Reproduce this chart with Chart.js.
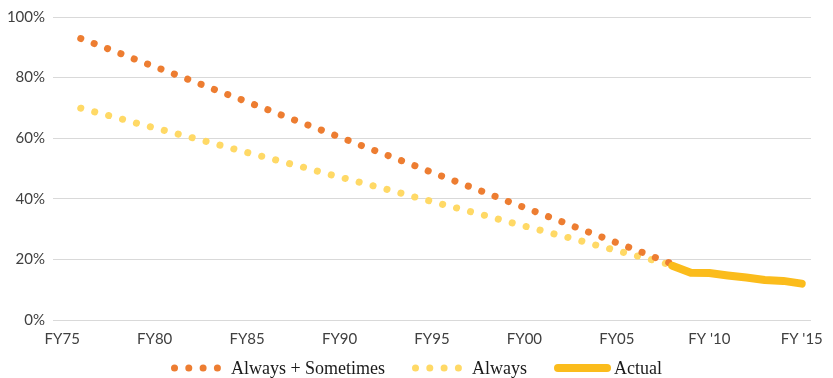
<!DOCTYPE html>
<html>
<head>
<meta charset="utf-8">
<script src="https://cdn.jsdelivr.net/npm/chart.js@4.4.1/dist/chart.umd.min.js"></script>
<style>
  html, body { margin: 0; padding: 0; background: #fff; }
  #wrap { position: relative; width: 833px; height: 378px; }
  #legend {
    position: absolute; left: 0; top: 357px; width: 833px; height: 22px;
    display: flex; justify-content: center; align-items: center;
    font-family: "Liberation Serif", serif; font-size: 18px; line-height: 22px; color: #1a1a1a;
  }
  .item { display: flex; align-items: center; margin: 0 13.5px; }
  .item canvas { display: block; }
</style>
</head>
<body>
<div id="wrap">
  <canvas id="chart" width="833" height="378"></canvas>
  <div id="legend"></div>
</div>
<script>
// Kategorien (Fiskaljahre)
const categories = [
  'FY75','FY76','FY77','FY78','FY79','FY80','FY81','FY82','FY83','FY84',
  'FY85','FY86','FY87','FY88','FY89','FY90','FY91','FY92','FY93','FY94',
  'FY95','FY96','FY97','FY98','FY99','FY00','FY01','FY02','FY03','FY04',
  'FY05','FY06','FY07','FY08','FY09',"FY '10","FY '11","FY '12","FY '13","FY '14","FY '15"
];
// nur diese werden auf der x-Achse beschriftet
const tickLabels = ['FY75','FY80','FY85','FY90','FY95','FY00','FY05',"FY '10","FY '15"];

// Werte in %
const alwaysSometimes = [
  null,
  92.9, 90.6, 88.3, 85.9, 83.6, 81.3, 79.0, 76.6, 74.3, 72.0,
  69.7, 67.3, 65.0, 62.7, 60.4, 58.0, 55.7, 53.4, 51.1, 48.7,
  46.4, 44.1, 41.8, 39.4, 37.1, 34.8, 32.5, 30.1, 27.8, 25.5,
  23.2, 20.8, 18.5,
  null, null, null, null, null, null, null
];
const always = [
  null,
  69.9, 68.3, 66.7, 65.0, 63.4, 61.8, 60.2, 58.6, 56.9, 55.3,
  53.7, 52.1, 50.5, 48.8, 47.2, 45.6, 44.0, 42.4, 40.7, 39.1,
  37.5, 35.9, 34.3, 32.6, 31.0, 29.4, 27.8, 26.2, 24.5, 22.9,
  21.3, 19.7, 18.1,
  null, null, null, null, null, null, null
];
const actual = [
  null, null, null, null, null, null, null, null, null, null,
  null, null, null, null, null, null, null, null, null, null,
  null, null, null, null, null, null, null, null, null, null,
  null, null, null,
  17.9, 15.6, 15.5, 14.7, 14.0, 13.2, 12.9, 12.0
];

const yTicks = [0, 20, 40, 60, 80, 100];

const tickFont = { family: 'Lato', size: 15 };
const tickColor = '#404040';

const chart = new Chart(document.getElementById('chart'), {
  type: 'line',
  data: {
    labels: categories,
    datasets: [
      {
        label: 'Always + Sometimes',
        data: alwaysSometimes,
        borderColor: '#ED7D31',
        borderWidth: 7,
        borderDash: [0.1, 14.2],
        borderCapStyle: 'round',
        pointRadius: 0,
        fill: false,
        order: 1
      },
      {
        label: 'Always',
        data: always,
        borderColor: '#FFD966',
        borderWidth: 7,
        borderDash: [0.1, 14.3],
        borderCapStyle: 'round',
        pointRadius: 0,
        fill: false,
        order: 2
      },
      {
        label: 'Actual',
        data: actual,
        borderColor: '#FBBC1C',
        borderWidth: 8,
        borderCapStyle: 'round',
        borderJoinStyle: 'round',
        pointRadius: 0,
        fill: false,
        order: 0
      }
    ]
  },
  options: {
    responsive: false,
    animation: false,
    events: [],
    layout: { padding: { left: 0, right: 16, top: 15, bottom: 28 } },
    plugins: { legend: { display: false }, tooltip: { enabled: false } },
    scales: {
      x: {
        offset: true,
        grid: { display: false, drawTicks: false },
        border: { display: false },
        ticks: {
          autoSkip: false,
          maxRotation: 0,
          padding: 10,
          font: tickFont,
          color: tickColor,
          callback: function(value) {
            const lab = this.getLabelForValue(value);
            return tickLabels.includes(lab) ? lab : '';
          }
        },
        afterFit: function(scale) { scale.height = 30; }
      },
      y: {
        min: 0,
        max: 100,
        grid: { color: '#D9D9D9', lineWidth: 1, drawTicks: false },
        border: { display: false },
        ticks: {
          padding: 8,
          font: tickFont,
          color: tickColor,
          stepSize: 20,
          callback: function(v) { return yTicks.includes(v) ? v + '%' : ''; }
        },
        afterFit: function(scale) { scale.width = 53; }
      }
    }
  }
});

// Legende als HTML unter dem Chart
function makeSymbol(ds) {
  const c = document.createElement('canvas');
  const ctx = c.getContext('2d');
  if (ds.borderDash) {
    c.width = 50; c.height = 10;
    ctx.fillStyle = ds.borderColor;
    for (let i = 0; i < 4; i++) {
      ctx.beginPath();
      ctx.arc(3.5 + i * 14.3, 5, 3.5, 0, Math.PI * 2);
      ctx.fill();
    }
    c.style.marginRight = '10px';
  } else {
    c.width = 57; c.height = 10;
    ctx.strokeStyle = ds.borderColor;
    ctx.lineWidth = ds.borderWidth;
    ctx.lineCap = 'round';
    ctx.beginPath();
    ctx.moveTo(4, 5);
    ctx.lineTo(53, 5);
    ctx.stroke();
    c.style.marginRight = '3px';
  }
  return c;
}

const legendEl = document.getElementById('legend');
for (const ds of chart.data.datasets) {
  const item = document.createElement('div');
  item.className = 'item';
  item.appendChild(makeSymbol(ds));
  const span = document.createElement('span');
  span.textContent = ds.label;
  item.appendChild(span);
  legendEl.appendChild(item);
}
</script>
</body>
</html>
